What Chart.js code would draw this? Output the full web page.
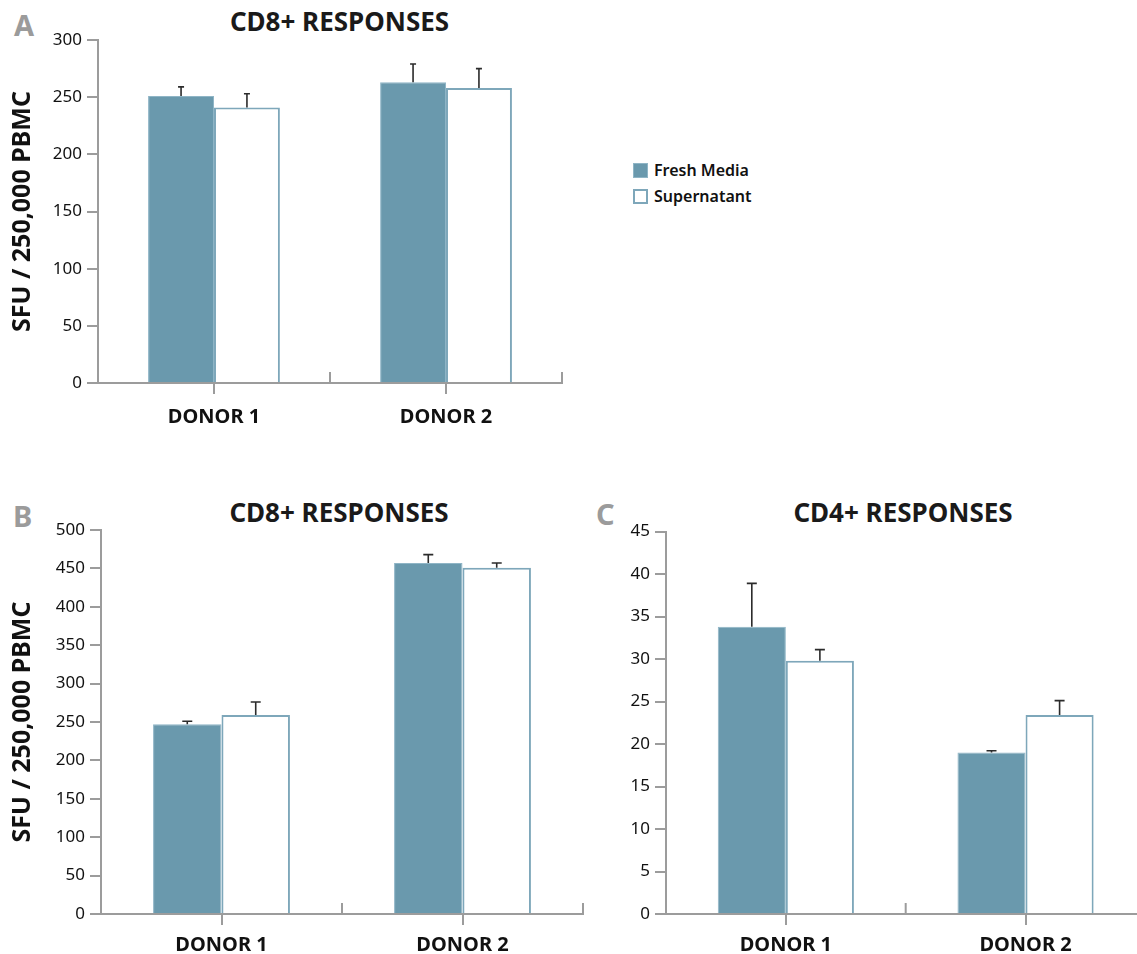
<!DOCTYPE html>
<html><head><meta charset="utf-8">
<script src="https://cdn.jsdelivr.net/npm/chart.js@4.4.0/dist/chart.umd.min.js"></script>
<style>
html,body{margin:0;padding:0;background:#fff;width:1137px;height:954px;overflow:hidden;position:relative;font-family:"Noto Sans",sans-serif;}
.abs{position:absolute;line-height:1;white-space:nowrap;}
.letter{font-weight:700;font-size:29px;color:#9b9b9b;}
.title{font-weight:700;font-size:26px;color:#1a1a1a;transform:translateX(-50%);}
.leg{font-weight:600;font-size:16px;color:#111;}
.sw{position:absolute;width:15px;height:15px;box-sizing:border-box;}
canvas{position:absolute;}
</style></head><body>
<div class="abs letter" style="left:14px;top:10px;">A</div>
<div class="abs letter" style="left:13px;top:501px;">B</div>
<div class="abs letter" style="left:596px;top:499px;">C</div>
<div class="abs title" style="left:339.5px;top:8px;">CD8+ RESPONSES</div>
<div class="abs title" style="left:339px;top:499px;">CD8+ RESPONSES</div>
<div class="abs title" style="left:903px;top:499px;">CD4+ RESPONSES</div>
<div class="sw" style="left:633px;top:163px;background:#6a99ad;border:1px solid #8fb5c6;"></div>
<div class="sw" style="left:633px;top:189px;background:#fff;border:2px solid #7ea7ba;"></div>
<div class="abs leg" id="leg0" style="left:654px;top:162px;"></div>
<div class="abs leg" id="leg1" style="left:654px;top:188px;"></div>
<canvas id="cA" width="600" height="440" style="left:0;top:0;"></canvas>
<canvas id="cB" width="600" height="464" style="left:0;top:490px;"></canvas>
<canvas id="cC" width="580" height="464" style="left:590px;top:490px;"></canvas>
<script>
// ---- data ----
const categories = ['DONOR 1', 'DONOR 2'];
const seriesNames = ['Fresh Media', 'Supernatant'];
const yAxisTitle = 'SFU / 250,000 PBMC';

const panelAFresh = [251, 263];
const panelAFreshErr = [8, 16];
const panelASuper = [241, 258];
const panelASuperErr = [12, 17];
const panelATicks = [0, 50, 100, 150, 200, 250, 300];

const panelBFresh = [247, 457];
const panelBFreshErr = [4, 11];
const panelBSuper = [259, 451];
const panelBSuperErr = [17, 6];
const panelBTicks = [0, 50, 100, 150, 200, 250, 300, 350, 400, 450, 500];

const panelCFresh = [33.8, 19.0];
const panelCFreshErr = [5.1, 0.2];
const panelCSuper = [29.8, 23.4];
const panelCSuperErr = [1.3, 1.7];
const panelCTicks = [0, 5, 10, 15, 20, 25, 30, 35, 40, 45];

// ---- styles ----
const FAMILY = '"Noto Sans", sans-serif';
const FRESH = '#6a99ad', FRESH_EDGE = '#8fb5c6', SUP_EDGE = '#7ea7ba', AXIS = '#9c9c9c';

document.getElementById('leg0').textContent = seriesNames[0];
document.getElementById('leg1').textContent = seriesNames[1];

const errorBarPlugin = {
  id: 'errorBars',
  afterDatasetsDraw(chart, args, opts) {
    const ctx = chart.ctx, ys = chart.scales.y;
    ctx.save();
    ctx.strokeStyle = opts.color; ctx.lineWidth = opts.width;
    chart.data.datasets.forEach((ds, di) => {
      const meta = chart.getDatasetMeta(di);
      const errs = opts.errors[di];
      meta.data.forEach((bar, i) => {
        const x = bar.x;
        const y0 = ys.getPixelForValue(ds.data[i]);
        const y1 = ys.getPixelForValue(ds.data[i] + errs[i]);
        ctx.beginPath();
        ctx.moveTo(x, y0); ctx.lineTo(x, y1);
        ctx.moveTo(x - opts.cap, y1); ctx.lineTo(x + opts.cap, y1);
        ctx.stroke();
      });
    });
    ctx.restore();
  }
};

const boundaryTicks = {
  id: 'boundaryTicks',
  beforeDatasetsDraw(chart, args, opts) {
    const xs = chart.scales.x, ctx = chart.ctx;
    const n = xs.ticks.length;
    const pos = [xs.left];
    for (let i = 0; i < n - 1; i++) pos.push((xs.getPixelForTick(i) + xs.getPixelForTick(i + 1)) / 2);
    pos.push(xs.right);
    ctx.save();
    ctx.strokeStyle = opts.color; ctx.lineWidth = opts.width;
    pos.forEach(p => { ctx.beginPath(); ctx.moveTo(p, xs.top); ctx.lineTo(p, xs.top - opts.length); ctx.stroke(); });
    ctx.restore();
  }
};

function makePanel(id, fresh, freshErr, sup, supErr, yTicks, o) {
  return new Chart(document.getElementById(id), {
    type: 'bar',
    data: {
      labels: categories,
      datasets: [
        { label: seriesNames[0], data: fresh, backgroundColor: FRESH, borderColor: FRESH_EDGE, borderWidth: 1 },
        { label: seriesNames[1], data: sup, backgroundColor: '#ffffff', borderColor: SUP_EDGE, borderWidth: 2 }
      ]
    },
    options: {
      responsive: false, animation: false, events: [],
      layout: { padding: o.padding },
      datasets: { bar: { categoryPercentage: 0.568, barPercentage: 1 } },
      plugins: {
        legend: { display: false }, tooltip: { enabled: false }, title: { display: false },
        errorBars: { errors: [freshErr, supErr], color: '#2b2b2b', width: 1.6, cap: o.cap },
        boundaryTicks: { color: AXIS, width: 2, length: 11 }
      },
      scales: {
        x: {
          type: 'category', offset: true,
          grid: { display: true, offset: false, drawOnChartArea: false, drawTicks: true, tickLength: 11, color: AXIS, lineWidth: 2 },
          border: { display: true, color: AXIS, width: 2 },
          ticks: { color: '#111', font: { family: FAMILY, size: 20, weight: 'bold' }, padding: o.xPad, maxRotation: 0 },
          afterFit: s => { s.height = o.xHeight; }
        },
        y: {
          min: yTicks[0], max: yTicks[yTicks.length - 1],
          afterBuildTicks: s => { s.ticks = yTicks.map(v => ({ value: v })); },
          grid: { display: true, drawOnChartArea: false, drawTicks: true, tickLength: 11, color: AXIS, lineWidth: 2 },
          border: { display: true, color: AXIS, width: 2 },
          ticks: { color: '#111', font: { family: FAMILY, size: 17 }, padding: 5 },
          title: o.yTitle ? { display: true, text: yAxisTitle, color: '#111', font: { family: FAMILY, size: 25, weight: 'bold' }, padding: { top: 8, bottom: 0 } } : { display: false },
          afterFit: s => { s.width = o.yWidth; }
        }
      }
    },
    plugins: [errorBarPlugin, boundaryTicks]
  });
}

makePanel('cA', panelAFresh, panelAFreshErr, panelASuper, panelASuperErr, panelATicks,
  { padding: { left: 0, top: 40, right: 38, bottom: 7 }, yWidth: 98, xHeight: 50, xPad: 11, cap: 3, yTitle: true });
makePanel('cB', panelBFresh, panelBFreshErr, panelBSuper, panelBSuperErr, panelBTicks,
  { padding: { left: 0, top: 40, right: 17, bottom: 2 }, yWidth: 101, xHeight: 38, xPad: 8, cap: 5, yTitle: true });
makePanel('cC', panelCFresh, panelCFreshErr, panelCSuper, panelCSuperErr, panelCTicks,
  { padding: { left: 0, top: 41.5, right: 24.6, bottom: 2 }, yWidth: 76, xHeight: 38, xPad: 8, cap: 5, yTitle: false });
</script>
</body></html>
